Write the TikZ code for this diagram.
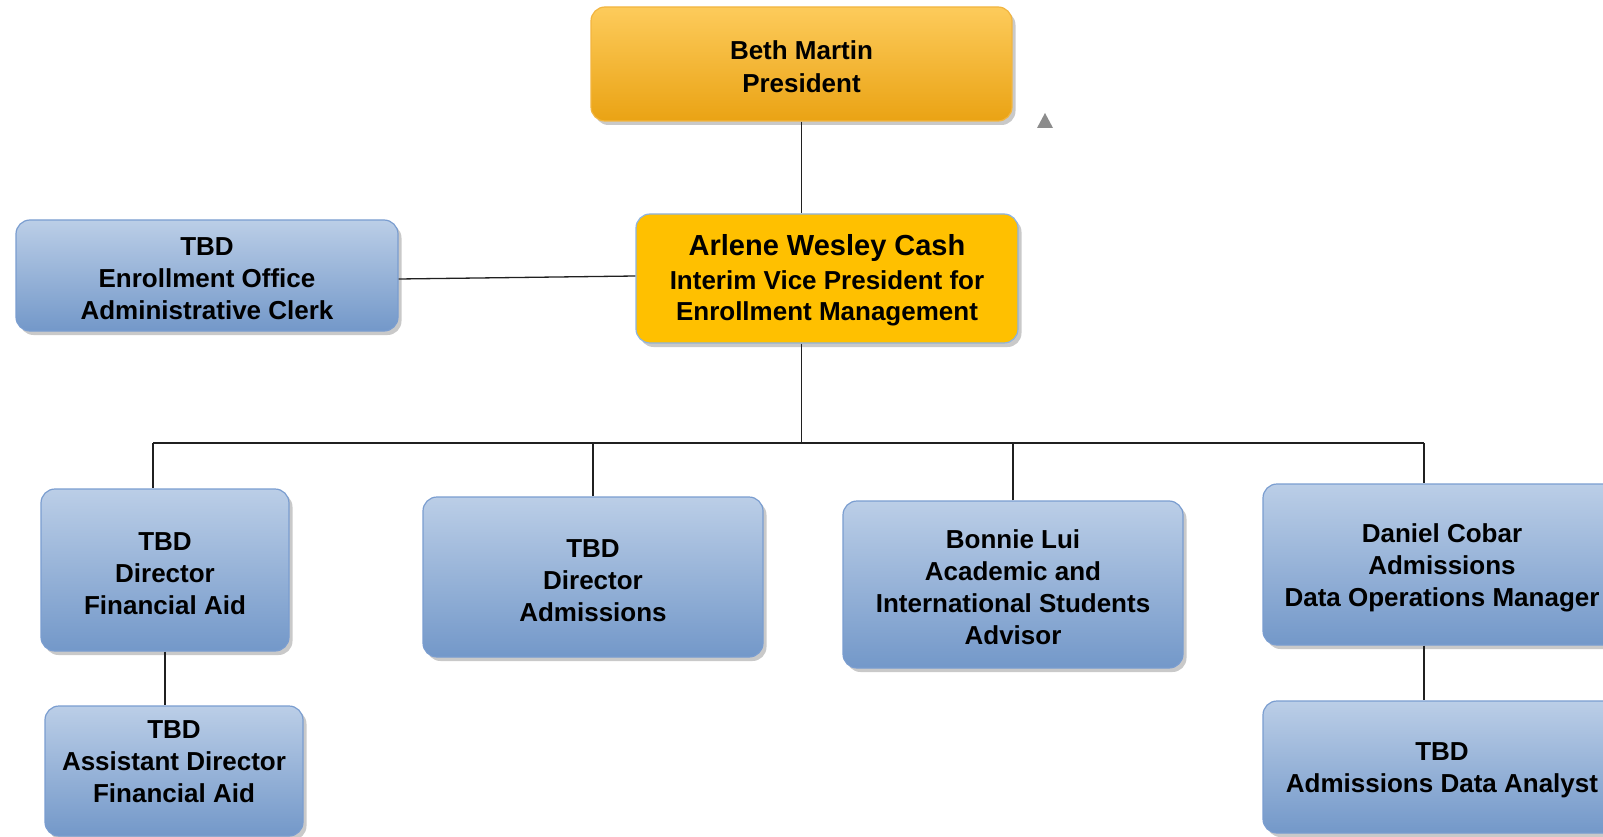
\documentclass[tikz,border=0pt]{standalone}
\usepackage{fontspec}
\setmainfont{Liberation Sans}
\usetikzlibrary{shadows}
\definecolor{bluetop}{HTML}{BBCEE7}
\definecolor{bluebot}{HTML}{7398C9}
\definecolor{blueedge}{HTML}{7A9DD0}
\definecolor{orgtop}{HTML}{FDCB5B}
\definecolor{orgbot}{HTML}{EAA314}
\definecolor{orgedge}{HTML}{F2B540}
\definecolor{vpfill}{HTML}{FFC000}
\definecolor{vpedge}{HTML}{8DB3E2}
\definecolor{lineclr}{HTML}{202020}
\newcommand{\topstrut}{\rule{0pt}{25pt}}
\tikzset{
  box/.style={rectangle, rounded corners=14pt, inner sep=0pt, align=center,
    line width=1.2pt,
    drop shadow={shadow xshift=3.5pt, shadow yshift=-4pt, opacity=0.3, fill=black!70},
    font=\fontsize{26}{32}\selectfont\bfseries},
  bluebox/.style={box, draw=blueedge, top color=bluetop, bottom color=bluebot},
  presbox/.style={box, draw=orgedge, top color=orgtop, bottom color=orgbot,
    font=\fontsize{26}{33}\selectfont\bfseries},
  vpbox/.style={box, draw=vpedge, fill=vpfill, font=\fontsize{26}{31}\selectfont\bfseries},
  conn/.style={draw=lineclr, line width=1.3pt},
}
\begin{document}
\begin{tikzpicture}[x=1pt,y=-1pt]
\useasboundingbox (0,0) rectangle (1603,837);
\node[presbox, minimum width=421pt, minimum height=114pt] (pres) at (801.5,64) {\topstrut Beth Martin\\President};
\node[vpbox, minimum width=382pt, minimum height=129pt] (vp) at (827,278.5)
  {{\fontsize{29}{35}\selectfont\rule{0pt}{24pt}Arlene Wesley Cash}\\[3pt]Interim Vice President for\\Enrollment Management};
\node[bluebox, minimum width=382pt, minimum height=111pt] (clerk) at (207,275.5) {\topstrut TBD\\Enrollment Office\\Administrative Clerk};
\node[bluebox, minimum width=248pt, minimum height=162pt] (fin) at (165,570) {\topstrut TBD\\Director\\Financial Aid};
\node[bluebox, minimum width=258pt, minimum height=130pt,
  label={[name=asstt, align=center, inner sep=0pt, yshift=9pt, font=\fontsize{26}{32}\selectfont\bfseries]center:TBD\\Assistant Director\\Financial Aid}] (asst) at (174,771) {};
\node[bluebox, minimum width=340pt, minimum height=160pt] (adm) at (593,577) {\topstrut TBD\\Director\\Admissions};
\node[bluebox, minimum width=340pt, minimum height=167pt] (bon) at (1013,584.5) {\topstrut Bonnie Lui\\Academic and\\International Students\\Advisor};
\node[bluebox, minimum width=358pt, minimum height=161pt] (dan) at (1442,564.5) {\topstrut Daniel Cobar\\Admissions\\Data Operations Manager};
\node[bluebox, minimum width=358pt, minimum height=132pt] (ana) at (1442,767) {\topstrut TBD\\Admissions Data Analyst};
\fill[black!45] (1037,128) -- (1053,128) -- (1045,113) -- cycle;
\coordinate (busL) at (153,443);
\coordinate (busR) at (1424,443);
\draw[conn] (pres.south) -- (pres.south |- vp.north);
\draw[conn] ([yshift=-3.5pt]clerk.east) -- ([yshift=2.5pt]vp.west);
\draw[conn] (pres.south |- vp.south) -- (pres.south |- busL);
\draw[conn] (busL) -- (busR);
\draw[conn] (busL) -- (busL |- fin.north);
\draw[conn] (adm.north) -- (adm.north |- busL);
\draw[conn] (bon.north) -- (bon.north |- busL);
\draw[conn] (busR) -- (busR |- dan.north);
\draw[conn] (fin.south) -- (fin.south |- asst.north);
\draw[conn] (busR |- dan.south) -- (busR |- ana.north);
\end{tikzpicture}
\end{document}
